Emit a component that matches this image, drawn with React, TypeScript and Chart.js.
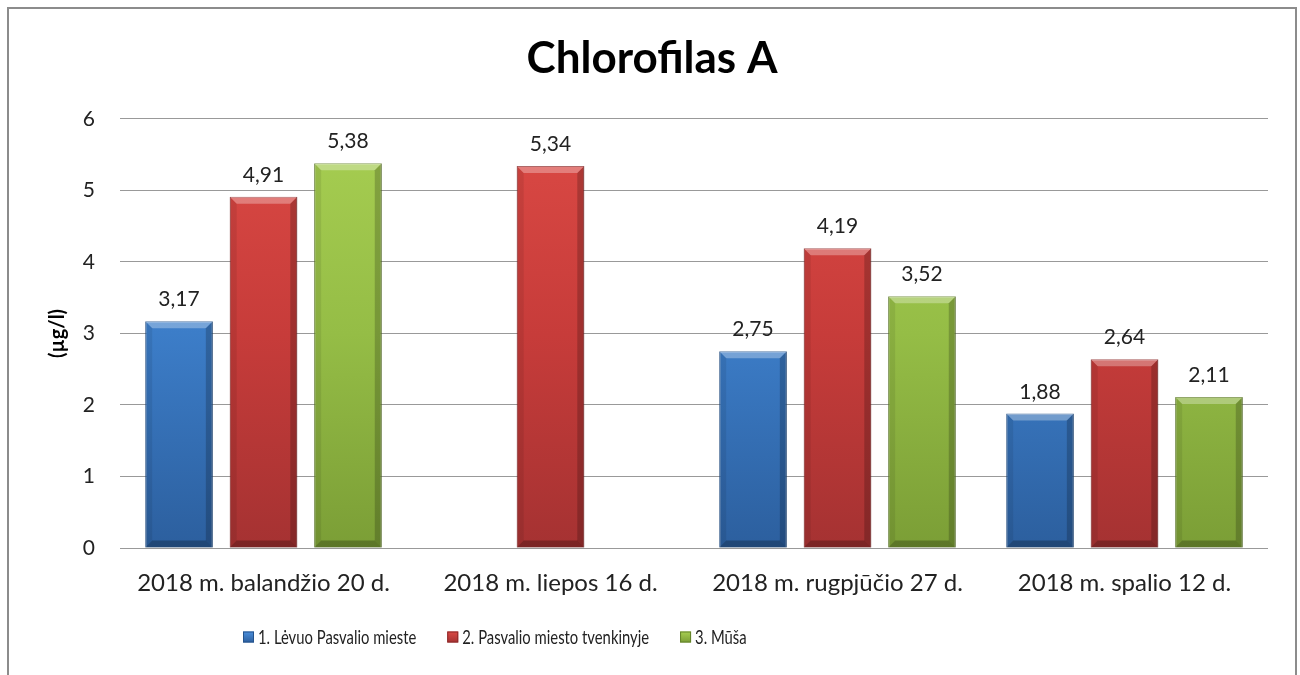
import React, { useEffect, useRef } from "react";
import { Chart, registerables } from "chart.js";

Chart.register(...registerables);

const chartTitle = "Chlorofilas A";
const yAxisTitle = "(µg/l)";
const categories = [
  "2018 m. balandžio 20 d.",
  "2018 m. liepos 16 d.",
  "2018 m. rugpjūčio 27 d.",
  "2018 m. spalio 12 d.",
];
const seriesNames = [
  "1. Lėvuo Pasvalio mieste",
  "2. Pasvalio miesto tvenkinyje",
  "3. Mūša",
];
const levuoValues = [3.17, null, 2.75, 1.88];
const tvenkinysValues = [4.91, 5.34, 4.19, 2.64];
const musaValues = [5.38, null, 3.52, 2.11];
const yMin = 0;
const yMax = 6;
const yStep = 1;

const palette = [
  { light: "#4b8fdd", mid: "#3c7dc8", dark: "#2c5f9e", edge: "#24538c" },
  { light: "#dc4a45", mid: "#c73c3a", dark: "#a53232", edge: "#8c2828" },
  { light: "#a8cf52", mid: "#95bd46", dark: "#7b9e36", edge: "#63822a" },
];

const FONT = "Lato, 'Open Sans', sans-serif";

const bevelPlugin = {
  id: "bevelBars",
  afterDatasetsDraw(chart: any) {
    const ctx = chart.ctx;
    chart.data.datasets.forEach((ds: any, di: number) => {
      const meta = chart.getDatasetMeta(di);
      meta.data.forEach((bar: any, i: number) => {
        const v = ds.data[i];
        if (v === null || v === undefined) return;
        const l = bar.x - bar.width / 2;
        const r = bar.x + bar.width / 2;
        const t = bar.y;
        const b = bar.base;
        const e = 7;
        ctx.save();
        ctx.beginPath();
        ctx.moveTo(l, t);
        ctx.lineTo(r, t);
        ctx.lineTo(r - e, t + e);
        ctx.lineTo(l + e, t + e);
        ctx.closePath();
        ctx.fillStyle = "rgba(255,255,255,0.3)";
        ctx.fill();
        ctx.beginPath();
        ctx.moveTo(l, t);
        ctx.lineTo(l + e, t + e);
        ctx.lineTo(l + e, b - e);
        ctx.lineTo(l, b);
        ctx.closePath();
        ctx.fillStyle = "rgba(0,0,0,0.08)";
        ctx.fill();
        ctx.beginPath();
        ctx.moveTo(r, t);
        ctx.lineTo(r - e, t + e);
        ctx.lineTo(r - e, b - e);
        ctx.lineTo(r, b);
        ctx.closePath();
        ctx.fillStyle = "rgba(0,0,0,0.2)";
        ctx.fill();
        ctx.beginPath();
        ctx.moveTo(l, b);
        ctx.lineTo(l + e, b - e);
        ctx.lineTo(r - e, b - e);
        ctx.lineTo(r, b);
        ctx.closePath();
        ctx.fillStyle = "rgba(0,0,0,0.25)";
        ctx.fill();
        ctx.restore();
      });
    });
  },
};

const valueLabelPlugin = {
  id: "valueLabels",
  afterDatasetsDraw(chart: any) {
    const ctx = chart.ctx;
    ctx.save();
    ctx.font = `21px ${FONT}`;
    ctx.fillStyle = "#222";
    ctx.textAlign = "center";
    ctx.textBaseline = "alphabetic";
    chart.data.datasets.forEach((ds: any, di: number) => {
      const meta = chart.getDatasetMeta(di);
      meta.data.forEach((bar: any, i: number) => {
        const v = ds.data[i];
        if (v === null || v === undefined) return;
        ctx.fillText(v.toFixed(2).replace(".", ","), bar.x, bar.y - 15);
      });
    });
    ctx.restore();
  },
};

// Legend drawn on the canvas (the reference legend sits left of centre)
const customLegendPlugin = {
  id: "customLegend",
  afterDraw(chart: any) {
    const ctx = chart.ctx;
    const startX = 243;
    const cy = 637;
    const box = 11;
    const sx = 0.78;
    ctx.save();
    ctx.font = `19px ${FONT}`;
    ctx.textBaseline = "middle";
    ctx.textAlign = "left";
    let x = startX;
    chart.data.datasets.forEach((ds: any, i: number) => {
      const c = palette[i];
      const g = ctx.createLinearGradient(0, cy - box / 2, 0, cy + box / 2);
      g.addColorStop(0, c.light);
      g.addColorStop(1, c.dark);
      ctx.fillStyle = g;
      ctx.fillRect(x, cy - box / 2, box, box);
      ctx.strokeStyle = c.edge;
      ctx.lineWidth = 1;
      ctx.strokeRect(x + 0.5, cy - box / 2 + 0.5, box - 1, box - 1);
      const tx = x + box + 4;
      ctx.save();
      ctx.translate(tx, cy);
      ctx.scale(sx, 1);
      ctx.fillStyle = "#222";
      ctx.fillText(ds.label, 0, 1);
      ctx.restore();
      const w = ctx.measureText(ds.label).width * sx;
      x = tx + w + 31;
    });
    ctx.restore();
  },
};

function gradientFor(idx: number) {
  return (context: any) => {
    const chart = context.chart;
    const area = chart.chartArea;
    const c = palette[idx];
    if (!area) return c.mid;
    const g = chart.ctx.createLinearGradient(0, area.top, 0, area.bottom);
    g.addColorStop(0, c.light);
    g.addColorStop(0.5, c.mid);
    g.addColorStop(1, c.dark);
    return g;
  };
}

export default function App() {
  const ref = useRef<HTMLCanvasElement | null>(null);

  useEffect(() => {
    if (!ref.current) return;
    const seriesValues = [levuoValues, tvenkinysValues, musaValues];
    const chart = new Chart(ref.current, {
      type: "bar",
      data: {
        labels: categories,
        datasets: seriesNames.map((name, i) => ({
          label: name,
          data: seriesValues[i],
          backgroundColor: gradientFor(i),
          borderColor: palette[i].edge,
          borderWidth: 1,
          categoryPercentage: 0.883,
          barPercentage: 0.8,
        })),
      },
      options: {
        responsive: false,
        animation: false,
        layout: { padding: { left: 36, right: 32, top: 0, bottom: 67 } },
        plugins: {
          title: {
            display: true,
            text: chartTitle,
            color: "#000",
            font: { family: FONT, size: 44, weight: "bold" },
            padding: { top: 32, bottom: 34 },
          },
          legend: { display: false },
          tooltip: { enabled: false },
        },
        scales: {
          x: {
            grid: { display: false, drawTicks: false },
            border: { display: false },
            ticks: {
              color: "#222",
              font: { family: FONT, size: 24 },
              padding: 21,
              autoSkip: false,
              maxRotation: 0,
            },
            afterFit: (scale: any) => {
              scale.height = 60;
            },
          },
          y: {
            min: yMin,
            max: yMax,
            grid: { color: "#999", lineWidth: 1, drawTicks: false },
            border: { display: false },
            ticks: {
              stepSize: yStep,
              color: "#222",
              font: { family: FONT, size: 21 },
              padding: 25,
            },
            title: {
              display: true,
              text: yAxisTitle,
              color: "#000",
              font: { family: FONT, size: 20, weight: "bold" },
              padding: { top: 10, bottom: 0 },
            },
            afterFit: (scale: any) => {
              scale.width = 84;
            },
          },
        },
      },
      plugins: [bevelPlugin, valueLabelPlugin, customLegendPlugin],
    } as any);
    return () => chart.destroy();
  }, []);

  return (
    <div style={{ position: "absolute", left: 0, top: 0, width: 1300, height: 675, background: "#fff", overflow: "hidden" }}>
      <div
        style={{
          position: "absolute",
          left: 7,
          top: 7,
          width: 1290,
          height: 720,
          border: "2px solid #8c8c8c",
          boxSizing: "border-box",
        }}
      />
      <canvas ref={ref} width={1300} height={675} style={{ position: "absolute", left: 0, top: 0 }} />
    </div>
  );
}
